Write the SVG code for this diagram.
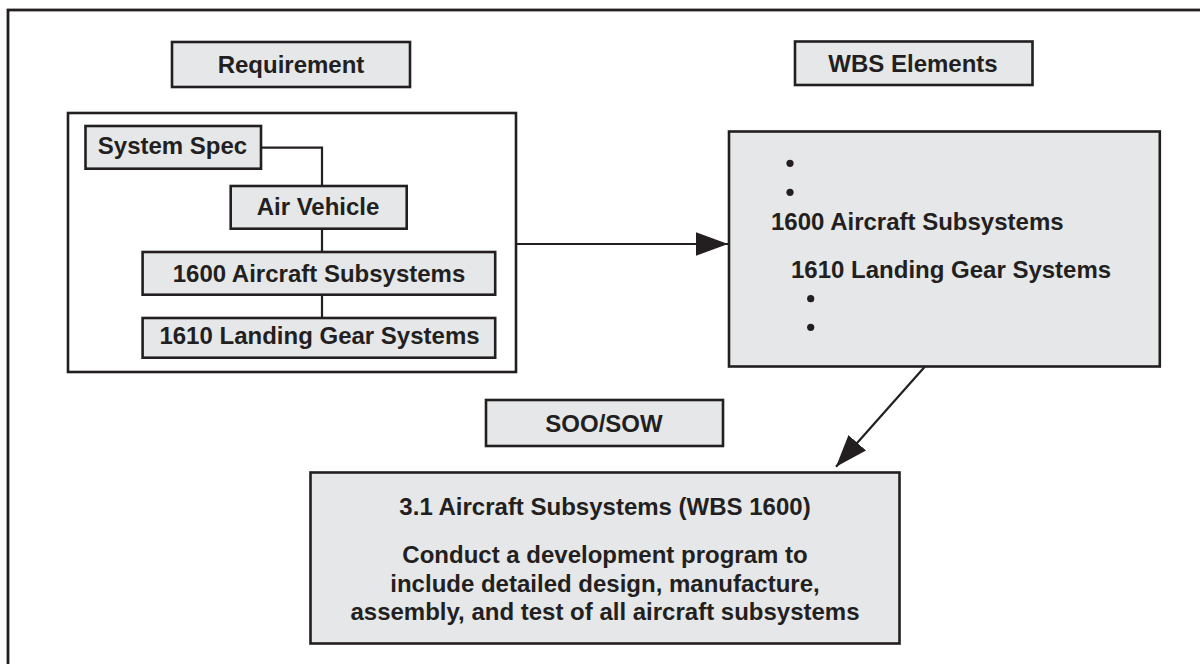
<svg xmlns="http://www.w3.org/2000/svg" width="1200" height="664" viewBox="0 0 1200 664">
<defs>
<style>
.box{fill:#e6e7e8;stroke:#231f20;stroke-width:2.6}
.frame{fill:none;stroke:#231f20;stroke-width:2.8}
.con{fill:none;stroke:#231f20;stroke-width:2.2}
.t{font-family:"Liberation Sans",Arial,sans-serif;font-weight:bold;font-size:24px;fill:#231f20}
.c{text-anchor:middle}
.dot{fill:#231f20}
</style>
<marker id="ah" markerUnits="userSpaceOnUse" markerWidth="33" markerHeight="24" refX="32" refY="11.7" orient="auto">
<path d="M0,0 L32,11.7 L0,23.4 Z" fill="#231f20"/>
</marker>
</defs>
<rect width="1200" height="664" fill="#ffffff"/>
<rect class="frame" x="8" y="10" width="1220" height="700"/>
<g id="requirement-label">
<rect class="box" x="172" y="42" width="238" height="45"/>
<text class="t c" x="291" y="73">Requirement</text>
</g>
<g id="requirement-group">
<rect class="frame" x="68" y="113" width="448" height="259" style="stroke-width:2.6"/>
</g>
<g id="connectors">
<path class="con" d="M261,147.7 H322 V186"/>
<path class="con" d="M322,228.7 V252"/>
<path class="con" d="M322,294.7 V318"/>
<path class="con" d="M516,244 H728" marker-end="url(#ah)"/>
<path class="con" d="M925,366.5 L836,466.7" marker-end="url(#ah)"/>
</g>
<g id="system-spec">
<rect class="box" x="85.5" y="126" width="175.5" height="42.7"/>
<text class="t c" x="172.5" y="153.5">System Spec</text>
</g>
<g id="air-vehicle">
<rect class="box" x="230.7" y="186" width="176" height="42.7"/>
<text class="t c" x="318" y="215">Air Vehicle</text>
</g>
<g id="aircraft-subsystems">
<rect class="box" x="142.6" y="252" width="352.6" height="42.7"/>
<text class="t c" x="319" y="281.7">1600 Aircraft Subsystems</text>
</g>
<g id="landing-gear">
<rect class="box" x="142.6" y="318" width="352.6" height="39.7"/>
<text class="t c" x="319.5" y="344">1610 Landing Gear Systems</text>
</g>
<g id="wbs-label">
<rect class="box" x="795" y="41.5" width="237.5" height="43.5"/>
<text class="t c" x="913" y="72">WBS Elements</text>
</g>
<g id="wbs-elements">
<rect class="box" x="729" y="131.5" width="430.8" height="235"/>
<circle class="dot" cx="790" cy="163.3" r="3.6"/>
<circle class="dot" cx="790" cy="192.3" r="3.6"/>
<text class="t" x="771" y="230">1600 Aircraft Subsystems</text>
<text class="t" x="791" y="278.3">1610 Landing Gear Systems</text>
<circle class="dot" cx="810.7" cy="298.7" r="3.6"/>
<circle class="dot" cx="810.7" cy="327.3" r="3.6"/>
</g>
<g id="soo-sow-label">
<rect class="box" x="486" y="400" width="237" height="46"/>
<text class="t c" x="604" y="431.5">SOO/SOW</text>
</g>
<g id="soo-sow">
<rect class="box" x="310.5" y="472.5" width="589" height="171"/>
<text class="t c" x="605" y="515">3.1 Aircraft Subsystems (WBS 1600)</text>
<text class="t c" x="605" y="563.3">Conduct a development program to</text>
<text class="t c" x="605" y="592.3">include detailed design, manufacture,</text>
<text class="t c" x="605" y="620">assembly, and test of all aircraft subsystems</text>
</g>
</svg>
